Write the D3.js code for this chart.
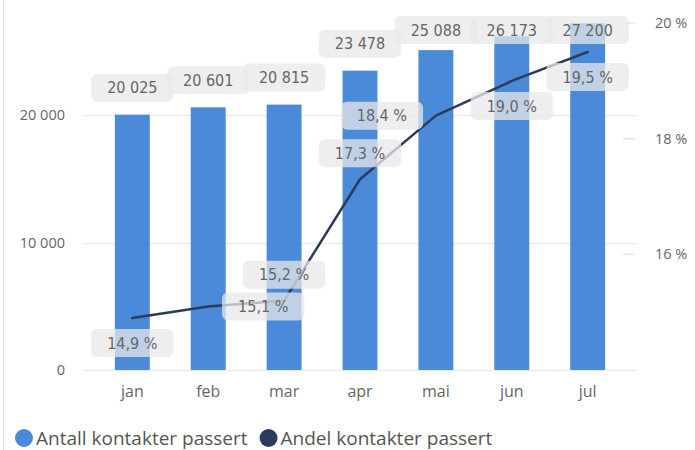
<!DOCTYPE html>
<html lang="no">
<head>
<meta charset="utf-8">
<title>Antall og andel kontakter passert</title>
<script src="https://d3js.org/d3.v7.min.js"></script>
<style>
  body { margin: 0; background: #fff; }
  svg { display: block; }
  .axis-label { font: 14.5px "Open Sans", sans-serif; fill: #666; }
  .month { font: 16px "Open Sans", sans-serif; fill: #666; }
  .data-label { font: 16px "DejaVu Sans Condensed", "DejaVu Sans", sans-serif; fill: #666; }
  .legend { font: 19px "Open Sans", sans-serif; fill: #555; }
</style>
</head>
<body>
<svg width="695" height="450"></svg>
<script>
  // data
  var months = ["jan", "feb", "mar", "apr", "mai", "jun", "jul"];
  var antall = [20025, 20601, 20815, 23478, 25088, 26173, 27200];
  var andel = [14.9, 15.1, 15.2, 17.3, 18.4, 19.0, 19.5];
  var leftTicks = [0, 10000, 20000];
  var rightTicks = [16, 18, 20];
  var seriesNames = ["Antall kontakter passert", "Andel kontakter passert"];

  // where each line label sits relative to its point
  var lineLabelPlace = ["below", "right", "above", "above", "left", "below", "below"];

  var barColor = "#4a8ad9";
  var lineColor = "#2c3a5e";

  var svg = d3.select("svg");
  var width = 695, height = 450;

  var fmtNum = function(v) { return d3.format(",")(v).replace(/,/g, " "); };
  var fmtPct = function(v) { return d3.format(".1f")(v).replace(".", ",") + " %"; };

  // panel border on the left
  svg.append("line")
    .attr("x1", 3.5).attr("x2", 3.5)
    .attr("y1", 0).attr("y2", height)
    .attr("stroke", "#e3e3e3");

  var x = d3.scaleBand()
    .domain(months)
    .range([83, 637])
    .paddingInner(0.54)
    .paddingOuter(0.42);

  var yL = d3.scaleLinear().domain([0, 29020]).range([370, 0]);
  var yR = d3.scaleLinear().domain([14, 20.4]).range([370, 0]);

  // gridlines + left axis labels
  svg.append("g").selectAll("line")
    .data(leftTicks)
    .join("line")
      .attr("x1", 83).attr("x2", 637)
      .attr("y1", function(d) { return Math.round(yL(d)) + 0.5; })
      .attr("y2", function(d) { return Math.round(yL(d)) + 0.5; })
      .attr("stroke", "#ececec")
      .attr("stroke-width", 1.5);

  svg.append("g").selectAll("text")
    .data(leftTicks)
    .join("text")
      .attr("class", "axis-label")
      .attr("x", 65)
      .attr("y", function(d) { return yL(d); })
      .attr("dy", "0.35em")
      .attr("text-anchor", "end")
      .text(fmtNum);

  // right axis: short tick marks + labels
  svg.append("g").selectAll("line")
    .data(rightTicks)
    .join("line")
      .attr("x1", 623).attr("x2", 635)
      .attr("y1", function(d) { return yR(d); })
      .attr("y2", function(d) { return yR(d); })
      .attr("stroke", "#e6e6e6")
      .attr("stroke-width", 1.5);

  svg.append("g").selectAll("text")
    .data(rightTicks)
    .join("text")
      .attr("class", "axis-label")
      .attr("x", 655)
      .attr("y", function(d) { return yR(d); })
      .attr("dy", "0.35em")
      .text(function(d) { return d + " %"; });

  // bars
  svg.append("g").selectAll("rect")
    .data(antall)
    .join("rect")
      .attr("x", function(d, i) { return x(months[i]); })
      .attr("y", function(d) { return yL(d); })
      .attr("width", x.bandwidth())
      .attr("height", function(d) { return yL(0) - yL(d); })
      .attr("fill", barColor);

  // month labels
  svg.append("g").selectAll("text")
    .data(months)
    .join("text")
      .attr("class", "month")
      .attr("x", function(d) { return x(d) + x.bandwidth() / 2; })
      .attr("y", 397)
      .attr("text-anchor", "middle")
      .text(function(d) { return d; });

  // line
  var line = d3.line()
    .x(function(d, i) { return x(months[i]) + x.bandwidth() / 2; })
    .y(function(d) { return yR(d); });

  svg.append("path")
    .datum(andel)
    .attr("d", line)
    .attr("fill", "none")
    .attr("stroke", lineColor)
    .attr("stroke-width", 2.5)
    .attr("stroke-linejoin", "round")
    .attr("stroke-linecap", "round");

  // data labels with translucent boxes
  function addLabel(g, cx, cy, txt) {
    var t = g.append("text")
      .attr("class", "data-label")
      .attr("x", cx).attr("y", cy)
      .attr("dy", "0.36em")
      .attr("text-anchor", "middle")
      .text(txt);
    var b = t.node().getBBox();
    g.insert("rect", "text")
      .attr("x", cx - b.width / 2 - 16)
      .attr("y", cy - 14)
      .attr("width", b.width + 32)
      .attr("height", 28)
      .attr("rx", 6)
      .attr("fill", "#e8e8e8")
      .attr("fill-opacity", 0.75);
  }

  var labels = svg.append("g");

  antall.forEach(function(d, i) {
    var cx = x(months[i]) + x.bandwidth() / 2;
    var cy = Math.max(yL(d) - 27, 30);
    addLabel(labels.append("g"), cx, cy, fmtNum(d));
  });

  andel.forEach(function(d, i) {
    var cx = x(months[i]) + x.bandwidth() / 2;
    var cy = yR(d);
    var p = lineLabelPlace[i];
    if (p === "below") cy += 25;
    if (p === "above") cy -= 26;
    if (p === "right") cx += 55;
    if (p === "left") cx -= 54;
    addLabel(labels.append("g"), cx, cy, fmtPct(d));
  });

  // legend
  var legend = svg.append("g");
  var lx = 24;
  seriesNames.forEach(function(name, i) {
    var item = legend.append("g");
    item.append("circle")
      .attr("cx", lx).attr("cy", 438)
      .attr("r", 9)
      .attr("fill", i === 0 ? barColor : lineColor);
    var t = item.append("text")
      .attr("class", "legend")
      .attr("x", lx + 12).attr("y", 438)
      .attr("dy", "0.35em")
      .text(name);
    lx += 12 + t.node().getComputedTextLength() + 21;
  });
</script>
</body>
</html>
